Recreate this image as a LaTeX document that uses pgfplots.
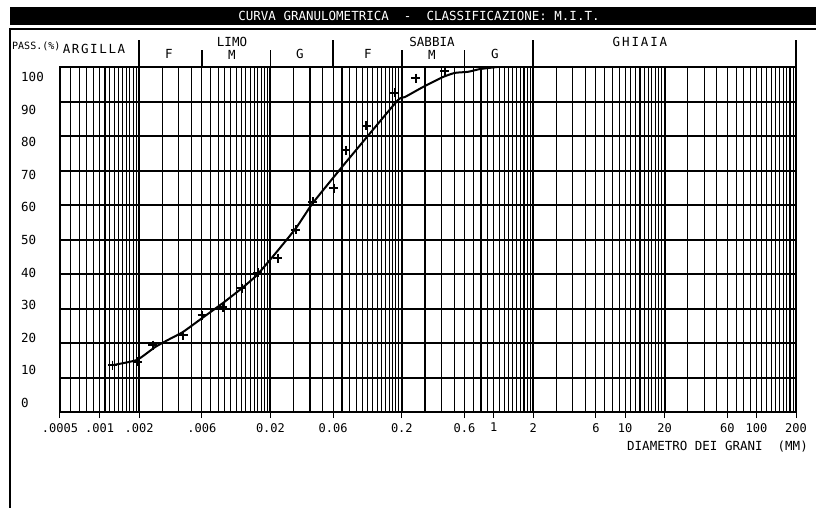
\documentclass[border=0pt]{standalone}
\usepackage{fontspec}
\setmainfont{DejaVu Sans Mono}
\usepackage{pgfplots}
\pgfplotsset{compat=1.18}
\newcommand{\tf}{\fontsize{12.5bp}{14bp}\selectfont}

\begin{document}
\begin{tikzpicture}
\path[use as bounding box] (0,0) rectangle (816bp,-508bp);
% title bar and frame
\fill (10bp,-7bp) rectangle (816bp,-25bp);
\node[white, font=\tf] at (419bp,-16bp) {CURVA GRANULOMETRICA~~-~~CLASSIFICAZIONE: M.I.T.};
\draw[line width=1.5bp] (10bp,-508bp) -- (10bp,-29bp) -- (816bp,-29bp);

\begin{axis}[
  at={(60bp,-412bp)}, anchor=south west,
  scale only axis, width=736bp, height=345bp,
  xmode=log, xmin=0.0005, xmax=200, ymin=0, ymax=100,
  clip=false,
  axis line style={line width=2bp},
  tick align=outside, xtick pos=left, ytick pos=left,
  major tick length=6bp, minor tick length=0pt,
  tick style={black, line width=1bp},
  xtick={0.0005,0.001,0.002,0.006,0.02,0.06,0.2,0.6,1,2,6,10,20,60,100,200},
  xticklabels={.0005,.001,.002,.006,0.02,0.06,0.2,0.6,1,2,6,10,20,60,100,200},
  minor xtick={0.0006,0.0007,0.0008,0.0009,0.001,0.0011,0.0012,0.0013,0.0014,0.0015,0.0016,0.0017,0.0018,0.0019,
    0.003,0.004,0.005,0.006,0.007,0.008,0.009,0.01,0.011,0.012,0.013,0.014,0.015,0.016,0.017,0.018,0.019,
    0.03,0.04,0.05,0.06,0.07,0.08,0.09,0.1,0.11,0.12,0.13,0.14,0.15,0.16,0.17,0.18,0.19,
    0.3,0.4,0.5,0.6,0.7,0.8,0.9,1,1.1,1.2,1.3,1.4,1.5,1.6,1.7,1.8,1.9,
    3,4,5,6,7,8,9,10,11,12,13,14,15,16,17,18,19,
    30,40,50,60,70,80,90,100,110,120,130,140,150,160,170,180,190},
  xmajorgrids, xminorgrids,
  major grid style={black, line width=1.1bp},
  minor grid style={black, line width=1.1bp},
  extra x ticks={0.002,0.02,0.2,2,20},
  extra x tick labels={},
  extra x tick style={grid=major, major grid style={black, line width=2bp}, major tick length=0pt},
  ytick={2.6,12.05,21.5,30.95,40.4,49.85,59.3,68.75,78.2,87.65,97.1},
  yticklabels={0,10,20,30,40,50,60,70,80,90,100},
  ytick style={draw=none},
  yticklabel style={anchor=west, inner sep=0pt, xshift=-33bp, font=\tf},
  xticklabel style={font=\fontsize{12bp}{14bp}\selectfont, inner sep=2bp, yshift=-3bp},
  extra y ticks={10,20,30,40,50,60,70,80,90},
  extra y tick labels={},
  extra y tick style={grid=major, major grid style={black, line width=2bp}, major tick length=0pt},
]
% curva granulometrica
\addplot[black, line width=2bp, smooth, tension=0.3] coordinates {
  (0.001264,13.6) (0.001928,15.1) (0.002642,18.8) (0.003319,20.9)
  (0.004315,23.2) (0.006026,27.2) (0.008698,31.6) (0.01213,35.9)
  (0.01578,39.7) (0.02163,45.8) (0.03126,53.3) (0.04207,60.6)
  (0.06998,71.0) (0.1084,79.7) (0.1866,90.4) (0.2113,91.3)
  (0.2897,94.2) (0.4111,97.1) (0.5070,98.3) (0.6368,98.6)
  (0.7852,99.4) (1.059,100)
};
% punti sperimentali
\addplot[only marks, mark=+, mark size=4.5bp, mark options={line width=1.4bp, black}] coordinates {
  (0.00126,13.6) (0.00193,14.5) (0.00255,19.4) (0.00432,22.3)
  (0.00603,28.1) (0.00869,30.4) (0.01213,35.9) (0.01607,40.3)
  (0.0228,44.6) (0.03126,52.8) (0.04207,60.9) (0.0608,64.9)
  (0.0751,75.9) (0.1067,82.9) (0.177,92.5) (0.256,96.8)
  (0.4256,98.8)
};
% limiti della classificazione M.I.T.
\draw[line width=1.5bp] (axis cs:0.002,100) -- ++(0pt,27bp);
\draw[line width=1.5bp] (axis cs:0.06,100) -- ++(0pt,27bp);
\draw[line width=1.5bp] (axis cs:2,100) -- ++(0pt,27bp);
\draw[line width=1.5bp] (axis cs:200,100) -- ++(0pt,27bp);
\draw[line width=1.5bp] (axis cs:0.006,100) -- ++(0pt,17bp);
\draw[line width=1.5bp] (axis cs:0.02,100) -- ++(0pt,17bp);
\draw[line width=1.5bp] (axis cs:0.2,100) -- ++(0pt,17bp);
\draw[line width=1.5bp] (axis cs:0.6,100) -- ++(0pt,17bp);
\end{axis}

% intestazioni
\node[anchor=west, font=\fontsize{10bp}{12bp}\selectfont, inner sep=0pt] at (12bp,-46bp) {PASS.(\%)};
\node[font=\tf\addfontfeature{LetterSpace=13}] at (94bp,-49bp) {ARGILLA};
\node[font=\tf] at (232bp,-41.5bp) {LIMO};
\node[font=\tf] at (232bp,-55bp) {M};
\node[font=\tf] at (169bp,-54bp) {F};
\node[font=\tf] at (300bp,-54bp) {G};
\node[font=\tf] at (368bp,-54bp) {F};
\node[font=\tf] at (432bp,-41.5bp) {SABBIA};
\node[font=\tf] at (432bp,-55bp) {M};
\node[font=\tf] at (495bp,-54bp) {G};
\node[font=\tf\addfontfeature{LetterSpace=15}] at (640bp,-42bp) {GHIAIA};
\node[anchor=east, font=\tf, inner sep=0pt] at (808bp,-447bp) {DIAMETRO DEI GRANI~~(MM)};
\end{tikzpicture}
\end{document}
